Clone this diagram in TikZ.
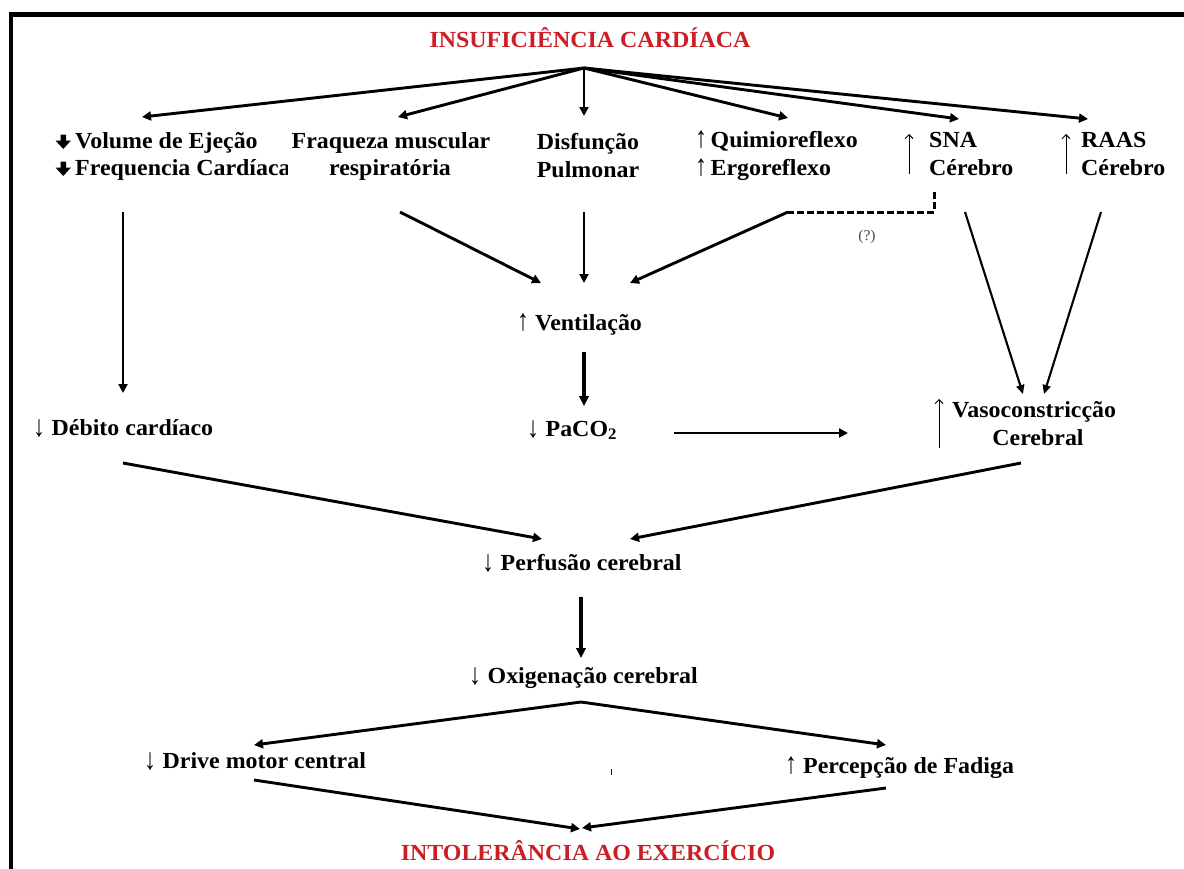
\documentclass[tikz,border=0pt]{standalone}
\usepackage{graphicx}
\usepackage{fontspec}
\setmainfont{Liberation Serif}[FakeStretch=1.04]
\usetikzlibrary{arrows.meta}
\definecolor{titlered}{RGB}{204,30,38}
% thin, tall change marks set in front of the labels
\newcommand{\upar}{\textmd{\scalebox{1}[1.3]{↑}}\hspace{3.5pt}}
\newcommand{\dnar}{\textmd{\raisebox{-1.5pt}{\scalebox{1}[1.3]{↓}}}\hspace{6.5pt}}

\begin{document}
\begin{tikzpicture}[x=1pt,y=-1pt,
  lbl/.style={inner sep=0pt,font=\fontsize{23}{27}\selectfont\bfseries},
  ttl/.style={lbl,text=titlered},
  flow/.style={line width=2.9pt,-{Triangle[length=9pt,width=9pt]}},
  heavyflow/.style={line width=3.3pt,-{Triangle[length=10pt,width=9.5pt]}},
  thinflow/.style={line width=2.1pt,-{Triangle[length=9pt,width=8pt]}},
  rise/.style={line width=1pt,-{Straight Barb[length=4pt,width=8pt]}},
  guess/.style={line width=3pt,dash pattern=on 7pt off 3pt}]

\useasboundingbox (0,0) rectangle (1184,868);
\fill[white] (0,0) rectangle (1184,868);

% frame, running off the right and bottom edges
\begin{scope}
  \clip (0,0) rectangle (1184,868);
  \draw[line width=4.3pt] (11.2,890) -- (11.2,14.5) -- (1200,14.5);
\end{scope}

% ---------- texts ----------
\node[ttl,anchor=base] (ic) at (590,47) {INSUFICIÊNCIA CARDÍACA};

\node[lbl,anchor=base west] (vol1) at (75,148) {Volume de Ejeção};
\begin{scope}
  \clip (40,150) rectangle (287,190);
  \node[lbl,anchor=base west] (vol2) at (75,175) {Frequencia Cardíaca};
\end{scope}
\node[lbl,anchor=base] (fq1) at (391,148) {Fraqueza muscular};
\node[lbl,anchor=base] (fq2) at (390,175) {respiratória};
\node[lbl,anchor=base] (df1) at (588,149) {Disfunção};
\node[lbl,anchor=base] (df2) at (588,177) {Pulmonar};
\node[lbl,anchor=base west] (qm1) at (695,147) {\upar Quimioreflexo};
\node[lbl,anchor=base west] (qm2) at (695,175) {\upar Ergoreflexo};
\node[lbl,anchor=base west] (sn1) at (929,147) {SNA};
\node[lbl,anchor=base west] (sn2) at (929,175) {Cérebro};
\node[lbl,anchor=base west] (ra1) at (1081,147) {RAAS};
\node[lbl,anchor=base west] (ra2) at (1081,175) {Cérebro};

\node[lbl,anchor=base west] (vent) at (517,330) {\upar\hspace{2.5pt}Ventilação};
\node[lbl,anchor=base west] (paco) at (527,436) {\dnar PaCO\textsubscript{2}};
\node[lbl,anchor=base west] (deb) at (33,435) {\dnar Débito cardíaco};
\node[lbl,anchor=base west] (vaso1) at (952,417) {Vasoconstricção};
\node[lbl,anchor=base] (vaso2) at (1038,445) {Cerebral};
\node[lbl,anchor=base west] (perf) at (482,570) {\dnar Perfusão cerebral};
\node[lbl,anchor=base west] (oxi) at (469,683) {\dnar Oxigenação cerebral};
\node[lbl,anchor=base west] (drv) at (144,768) {\dnar Drive motor central};
\node[lbl,anchor=base west] (pfd) at (785,773) {\upar\hspace{2.5pt}Percepção de Fadiga};
\node[ttl,anchor=base] (ie) at (588,860) {INTOLERÂNCIA AO EXERCÍCIO};
\node[inner sep=0pt,font=\fontsize{15}{15}\selectfont,text=black!70] (qq) at (867,237) {(?)};

% bold down arrows in front of the first block
\fill ([shift={(-14.5,-13.5)}]vol1.base west) -- ++(5.5,0) -- ++(0,6) -- ++(5,0)
      -- ++(-7.75,8.5) -- ++(-7.75,-8.5) -- ++(5,0) -- cycle;
\fill ([shift={(-14.5,-13.5)}]vol2.base west) -- ++(5.5,0) -- ++(0,6) -- ++(5,0)
      -- ++(-7.75,8.5) -- ++(-7.75,-8.5) -- ++(5,0) -- cycle;

% tall thin rise marks
\coordinate (snB) at (909,174);  \coordinate (snT) at (909,134);
\coordinate (raB) at (1066,174); \coordinate (raT) at (1066,134);
\coordinate (vaB) at (939,448);  \coordinate (vaT) at (939,399);
\draw[rise] (snB) -- (snT);
\draw[rise] (raB) -- (raT);
\draw[rise] (vaB) -- (vaT);

% ---------- connector end points ----------
\coordinate (hub) at (584,68);
\coordinate (tVol) at (142,117);
\coordinate (tFq) at (398,117);
\coordinate (tDf) at (584,116);
\coordinate (tQm) at (788,118);
\coordinate (tSn) at (959,119);
\coordinate (tRa) at (1088,119);

\coordinate (sVol) at (123,212);  \coordinate (eVol) at (123,393);
\coordinate (sFq) at (400,212);   \coordinate (eFq) at (541,283);
\coordinate (sDf) at (584,212);   \coordinate (eDf) at (584,283);
\coordinate (sDash) at (934,192); \coordinate (cDash) at (934,212);
\coordinate (kDash) at (788,212); \coordinate (eQm) at (630,283);
\coordinate (sSn) at (965,212);   \coordinate (eSn) at (1023,394);
\coordinate (sRa) at (1101,212);  \coordinate (eRa) at (1044,394);
\coordinate (sVent) at (584,352); \coordinate (eVent) at (584,406);
\coordinate (sPa) at (674,433);   \coordinate (ePa) at (848,433);
\coordinate (sDeb) at (123,463);  \coordinate (eDeb) at (542,539);
\coordinate (sVaso) at (1021,463);\coordinate (eVaso) at (630,539);
\coordinate (sPerf) at (581,597); \coordinate (ePerf) at (581,658);
\coordinate (split) at (581,702);
\coordinate (eDrv) at (254,745);  \coordinate (ePfd) at (886,745);
\coordinate (sDrv) at (254,780);  \coordinate (eDrvB) at (580,829);
\coordinate (sPfd) at (886,788);  \coordinate (ePfdB) at (582,828);

% ---------- connectors ----------
\draw[flow] (hub) -- (tVol);
\draw[flow] (hub) -- (tFq);
\draw[flow] (hub) -- (tDf);
\draw[flow] (hub) -- (tQm);
\draw[flow] (hub) -- (tSn);
\draw[flow] (hub) -- (tRa);

\draw[flow] (sVol) -- (eVol);
\draw[flow] (sFq) -- (eFq);
\draw[flow] (sDf) -- (eDf);
\draw[guess] (sDash) -- (cDash) -- (kDash);
\draw[flow] (kDash) -- (eQm);
\draw[thinflow] (sSn) -- (eSn);
\draw[thinflow] (sRa) -- (eRa);

\draw[heavyflow] (sVent) -- (eVent);
\draw[flow] (sPa) -- (ePa);
\draw[flow] (sDeb) -- (eDeb);
\draw[flow] (sVaso) -- (eVaso);
\draw[heavyflow] (sPerf) -- (ePerf);
\draw[flow] (split) -- (eDrv);
\draw[flow] (split) -- (ePfd);
\draw[flow] (sDrv) -- (eDrvB);
\draw[flow] (sPfd) -- (ePfdB);

% stray tick
\draw[line width=1pt,blue!60!black] (611,769) -- (611,775);
\end{tikzpicture}
\end{document}
